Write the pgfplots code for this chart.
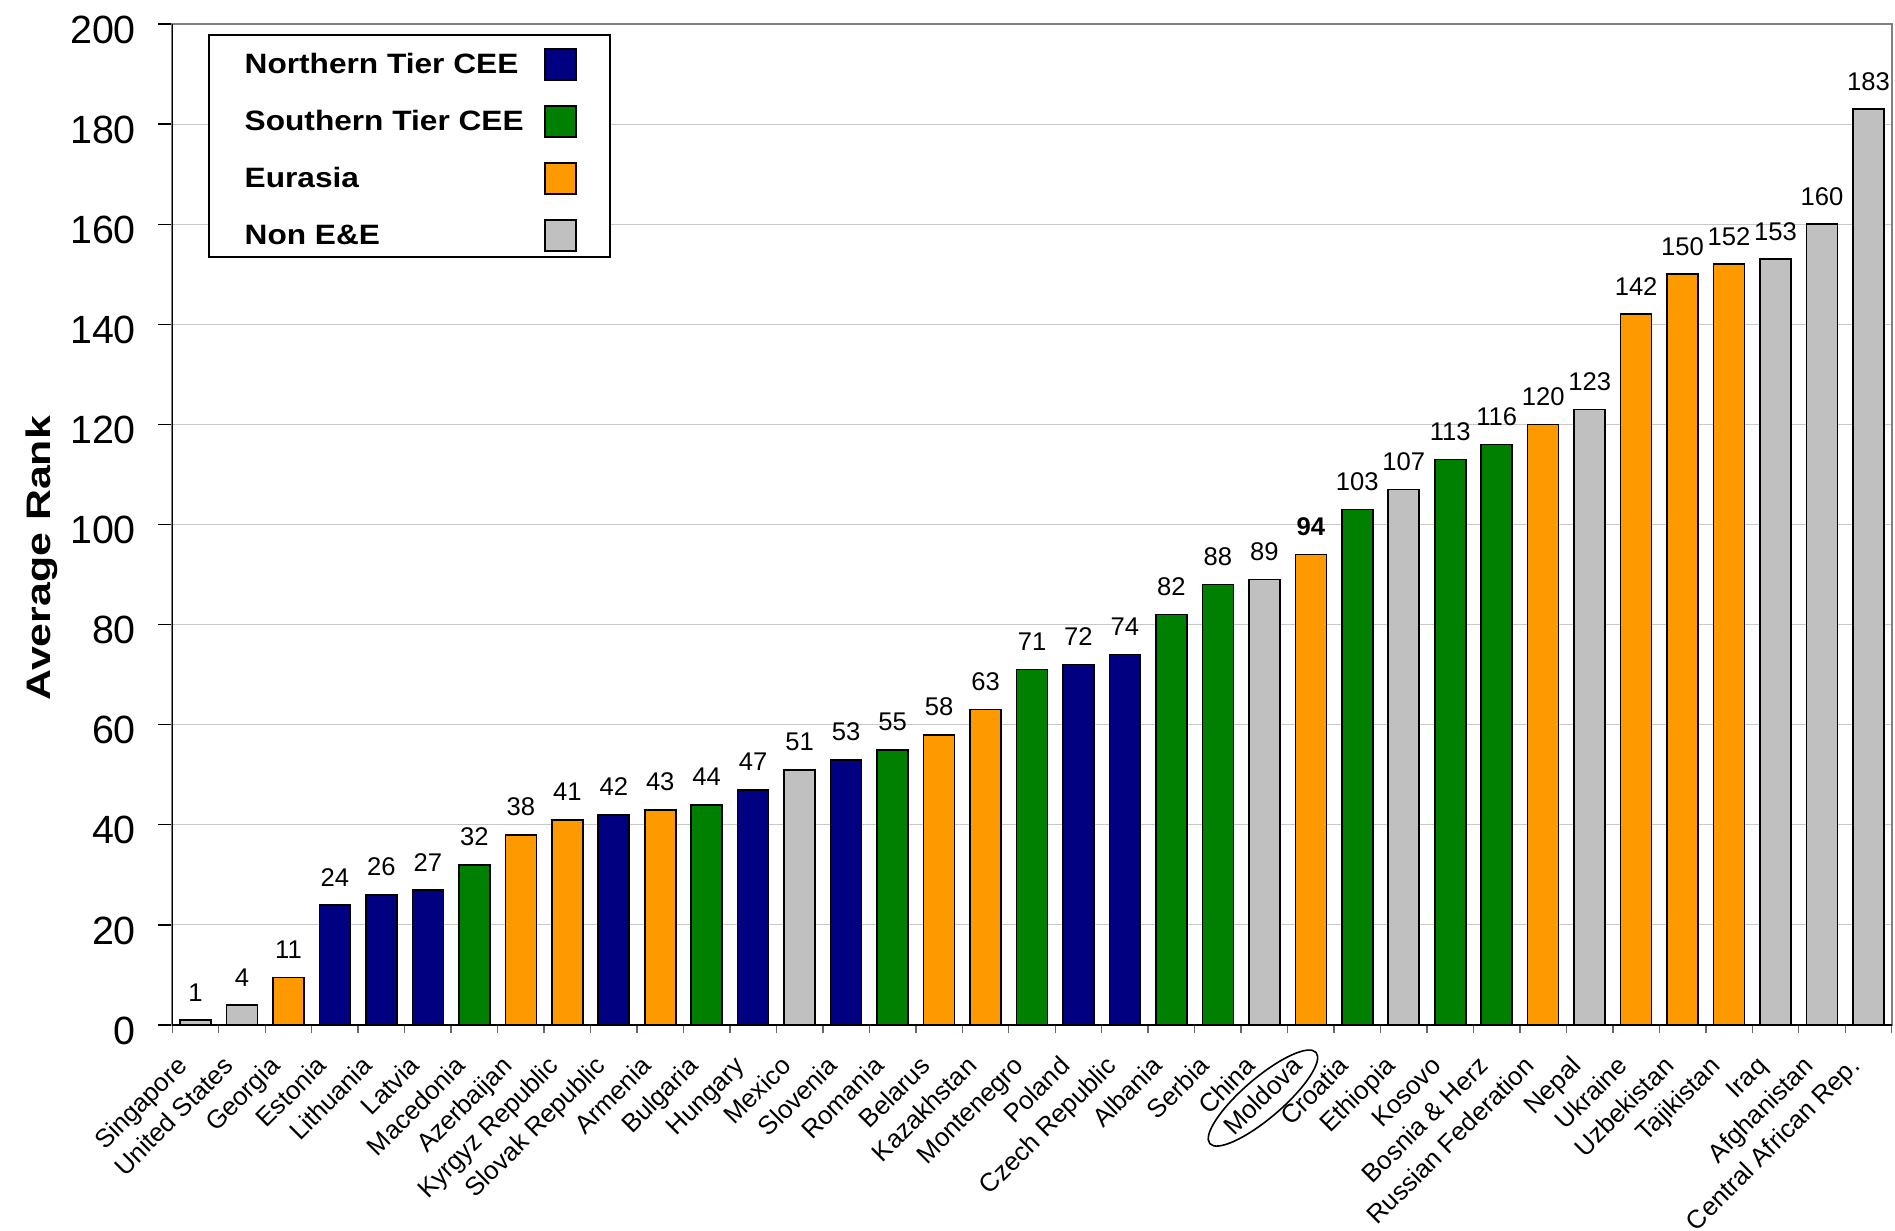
\documentclass[border=0pt]{standalone}
\usepackage{fontspec}
\setmainfont{Liberation Sans}
\newfontfamily\legfont[FakeStretch=1.13]{Liberation Sans}
\newfontfamily\ylabfont[FakeStretch=1.26]{Liberation Sans}
\usepackage{pgfplots}
\pgfplotsset{compat=1.18}
\usetikzlibrary{shapes.geometric}

\definecolor{northern}{HTML}{000080}
\definecolor{southern}{HTML}{008000}
\definecolor{eurasia}{HTML}{FF9900}
\definecolor{nonee}{HTML}{C0C0C0}

\begin{document}
\begin{tikzpicture}
\begin{axis}[
  scale only axis,
  width=859.7pt, height=500.5pt,
  ybar, bar shift=0pt, bar width=15.5pt,
  % colour box right of the text; the invisible path lifts each row a little
  legend image code/.code={
    \path[draw=none, fill=none] (0pt,-7.75pt) rectangle (15.5pt,12.6pt);
    \draw[#1, line width=1pt] (0pt,-7.75pt) rectangle (15.5pt,7.75pt);},
  xmin=-0.5, xmax=36.5, ymin=0, ymax=200,
  clip=false,
  axis line style={draw=gray, line width=0.9pt},
  ytick={0,20,...,200},
  ytick pos=left,
  xtick={0,...,36},
  xtick pos=bottom,
  tick align=outside,
  major tick length=7pt,
  minor tick length=4pt,
  every major x tick/.append style={draw=none},
  minor xtick={-0.5,0.5,...,36.5},
  every minor x tick/.append style={draw=black!60, line width=0.7pt},
  every major y tick/.append style={draw=black, line width=0.6pt},
  ymajorgrids,
  grid style={draw=black!22, line width=0.5pt},
  /pgf/number format/assume math mode=true,
  yticklabel style={font=\fontsize{19.7}{23}\selectfont, inner sep=0pt,
    xshift=-11pt, yshift=-2.8pt},
  xticklabels={Singapore, United States, Georgia, Estonia, Lithuania, Latvia,
    Macedonia, Azerbaijan, Kyrgyz Republic, Slovak Republic, Armenia, Bulgaria,
    Hungary, Mexico, Slovenia, Romania, Belarus, Kazakhstan, Montenegro, Poland,
    Czech Republic, Albania, Serbia, China, Moldova, Croatia, Ethiopia, Kosovo,
    Bosnia \& Herz, Russian Federation, Nepal, Ukraine, Uzbekistan, Tajikistan,
    Iraq, Afghanistan, Central African Rep.},
  xticklabel style={anchor=base east, inner sep=0pt, xshift=-3.5pt, yshift=-14.25pt,
    rotate=45, font=\fontsize{12.9}{15}\selectfont},
  ylabel={Average Rank},
  ylabel style={at={(axis description cs:-0.0711,0.4664)}, anchor=base,
    font=\ylabfont\bfseries\fontsize{17}{20}\selectfont},
  point meta=explicit symbolic,
  nodes near coords,
  nodes near coords style={font=\fontsize{12.8}{15}\selectfont, anchor=south,
    inner sep=0pt, yshift=9pt},
  legend plot pos=right,
  legend cell align=left,
  legend style={at={(axis description cs:0,1)}, anchor=north west,
    xshift=17.7pt, yshift=-5.15pt, draw=black, line width=1pt,
    inner xsep=16.5pt, inner ysep=2.25pt, row sep=7.65pt, column sep=8.7pt,
    font=\legfont\bfseries\fontsize{14}{17}\selectfont,
    nodes={inner sep=1.5pt}},
]
\addplot[fill=northern, draw=black, line width=0.8pt] coordinates {
  (3,24)[24] (4,26)[26] (5,27)[27] (9,42)[42] (12,47)[47] (14,53)[53]
  (19,72)[72] (20,74)[74]};
\addlegendentry{Northern Tier CEE}
\addplot[fill=southern, draw=black, line width=0.8pt] coordinates {
  (6,32)[32] (11,44)[44] (15,55)[55] (18,71)[71] (21,82)[82] (22,88)[88]
  (25,103)[103] (27,113)[113] (28,116)[116]};
\addlegendentry{Southern Tier CEE}
\addplot[fill=eurasia, draw=black, line width=0.8pt] coordinates {
  (2,9.5)[11] (7,38)[38] (8,41)[41] (10,43)[43] (16,58)[58] (17,63)[63]
  (24,94)[\textbf{94}] (29,120)[120] (31,142)[142] (32,150)[150] (33,152)[152]};
\addlegendentry{Eurasia}
\addplot[fill=nonee, draw=black, line width=0.8pt] coordinates {
  (0,1)[1] (1,4)[4] (13,51)[51] (23,89)[89] (26,107)[107] (30,123)[123]
  (34,153)[153] (35,160)[160] (36,183)[183]};
\addlegendentry{Non E\&E}
\draw[black, line width=0.7pt] (rel axis cs:0,0) -- (rel axis cs:0,1);
\draw[black, line width=0.8pt] (rel axis cs:0,0) -- (rel axis cs:1,0);
\node[draw, ellipse, rotate=40.6, minimum width=70pt, minimum height=20pt,
  line width=0.8pt, inner sep=0pt] at (axis cs:22.97,-14.6) {};
\end{axis}
\pgfresetboundingbox
\path (-86.15pt,-103pt) rectangle (861.35pt,512.5pt);
\end{tikzpicture}
\end{document}
